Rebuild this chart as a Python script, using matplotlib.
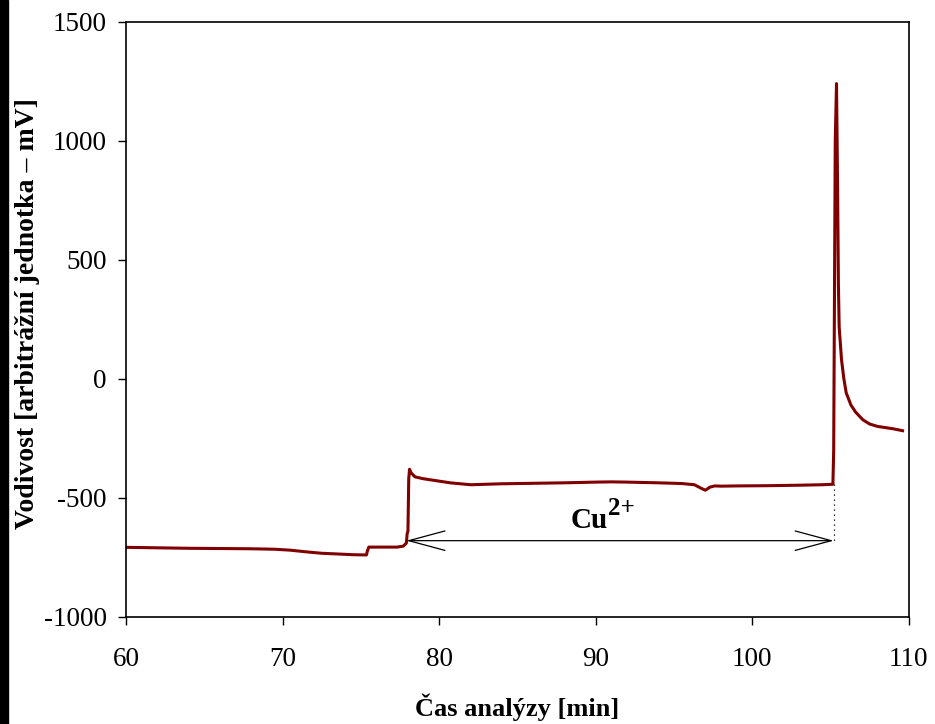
import numpy as np
import matplotlib.pyplot as plt
import matplotlib as mpl
from matplotlib.patches import Rectangle

mpl.rc('font', family='Liberation Serif')
mpl.rcParams['axes.unicode_minus'] = False

# conductivity trace (time in min, signal in mV)
cas = [60.0, 62.0, 64.0, 66.0, 68.0, 69.5, 70.5, 71.5, 72.5, 73.2, 74.5, 75.35, 75.4,
       75.5, 76.5, 77.3, 77.7, 77.9, 77.95, 78.0, 78.05, 78.1, 78.2, 78.45,
       79.0, 80.0, 80.7, 82.0, 84.0, 86.0, 88.0, 90.0, 91.0, 92.0, 94.0, 95.5,
       96.3, 96.8, 97.0, 97.3, 97.6, 98.0, 99.0, 101.0, 103.0, 104.5, 105.15, 105.2,
       105.3, 105.38, 105.45, 105.5, 105.55, 105.7, 105.85, 106.0, 106.3, 106.6,
       107.06, 107.5, 108.0, 108.6, 109.0, 109.6]
signal = [-708, -710, -712, -713, -714, -716, -720, -727, -733, -735, -739, -740, -725,
          -707, -707, -707, -703, -690, -650, -640, -420, -380, -395, -412,
          -420, -430, -437, -445, -441, -439, -437, -434, -433, -434, -437, -440,
          -445, -462, -468, -455, -450, -451, -450, -449, -447, -445, -443, -300,
          1000, 1240, 800, 400, 218, 80, 0, -59, -110, -140,
          -172, -190, -200, -206, -210, -218]

# Cu2+ zone boundaries
zona_od = 77.9
zona_do = 105.2
zona_y = -680

fig, ax = plt.subplots(figsize=(9.35, 7.24), dpi=100)
fig.subplots_adjust(left=0.135, right=0.972, top=0.97, bottom=0.148)

ax.plot(cas, signal, color='#800000', linewidth=2.2, solid_joinstyle='round')

ax.annotate('', xy=(zona_od, zona_y), xytext=(zona_do, zona_y),
            arrowprops=dict(arrowstyle='<->,head_length=2.6,head_width=0.7',
                            color='black', linewidth=0.9, shrinkA=0, shrinkB=0))
ax.plot([zona_do, zona_do], [-443, zona_y], color='black', linestyle=(0, (1, 3)),
        linewidth=0.9)
# ion label, superscript nearly full size as in the original
ax.text(90.8, -626, 'Cu', ha='right', va='baseline', fontsize=21, fontweight='bold')
ax.text(90.8, -571, '2+', ha='left', va='baseline', fontsize=18, fontweight='bold')

ax.set_xlim(60, 110)
ax.set_ylim(-1000, 1500)
ax.set_xticks(np.arange(60, 111, 10))
ax.set_yticks(np.arange(-1000, 1501, 500))
ax.tick_params(direction='out', length=6, width=1, labelsize=19.5, pad=8)
ax.tick_params(axis='x', pad=16)
ax.tick_params(top=False, right=False)
for s in ax.spines.values():
    s.set_linewidth(1.2)

ax.set_xlabel('Čas analýzy [min]', fontsize=19, fontweight='bold')
ax.set_ylabel('Vodivost [arbitrážní jednotka – mV]', fontsize=20, fontweight='bold')
ax.xaxis.set_label_coords(0.5, -0.128)
ax.yaxis.set_label_coords(-0.11, 0.51)

# black strip along left edge of the original scan
fig.patches.append(Rectangle((0, 0), 8 / 935, 1, transform=fig.transFigure,
                             color='black', zorder=10))

fig.savefig('out.png')
plt.close()
